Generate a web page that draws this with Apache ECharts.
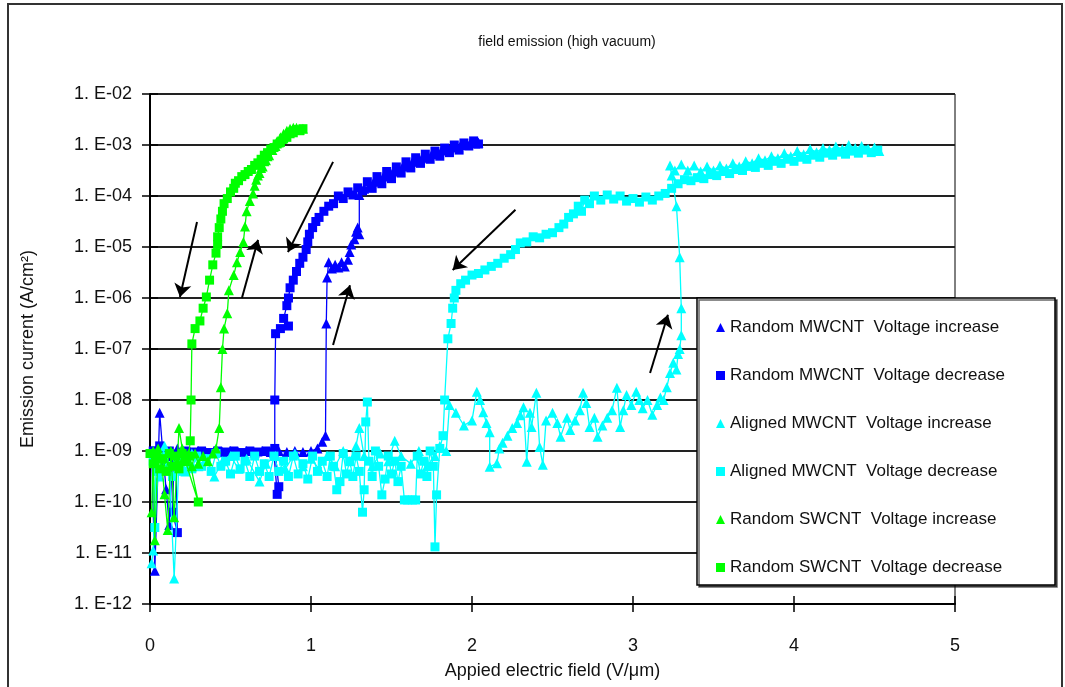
<!DOCTYPE html>
<html>
<head>
<meta charset="utf-8">
<title>field emission (high vacuum)</title>
<script src="https://cdn.jsdelivr.net/npm/echarts@6/dist/echarts.min.js"></script>
<style>
  html, body { margin: 0; padding: 0; background: #fff; }
  #chart { width: 1065px; height: 687px; }
</style>
</head>
<body>
<div id="chart"></div>
<script>
// values are [field (V/um), log10 of emission current (A/cm2)]
const rmwIncrease = [
  [0.01,-9.0],[0.03,-11.35],[0.06,-8.25],[0.08,-9.05],[0.1,-9.75],[0.12,-10.45],[0.14,-9.1],[0.17,-8.95],
  [0.2,-9.0],[0.25,-9.02],[0.3,-9.0],[0.35,-9.03],[0.4,-9.0],[0.45,-9.02],[0.5,-9.0],[0.55,-9.02],
  [0.6,-9.0],[0.65,-9.03],[0.7,-9.0],[0.75,-9.02],[0.8,-9.0],[0.85,-9.02],[0.9,-9.0],[0.95,-9.02],
  [1.0,-9.0],[1.04,-8.95],[1.07,-8.82],[1.09,-8.7],[1.095,-6.5],[1.1,-5.6],[1.11,-5.3],[1.13,-5.42],
  [1.15,-5.35],[1.17,-5.4],[1.19,-5.3],[1.21,-5.38],[1.23,-5.25],[1.24,-5.1],[1.25,-4.95],[1.27,-4.85],
  [1.28,-4.7],[1.29,-4.62],[1.3,-4.75],[1.3,-3.98],[1.33,-3.86],[1.36,-3.82],[1.39,-3.72],[1.42,-3.7],
  [1.45,-3.62],[1.48,-3.6],[1.51,-3.52],[1.54,-3.5],[1.57,-3.42],[1.6,-3.4],[1.63,-3.33],[1.66,-3.32],
  [1.69,-3.25],[1.72,-3.24],[1.75,-3.18],[1.78,-3.17],[1.81,-3.11],[1.84,-3.1],[1.87,-3.04],[1.9,-3.05],
  [1.93,-3.0],[1.96,-3.0],[1.99,-2.96],[2.02,-2.97],[2.04,-2.95]
];
const rmwDecrease = [
  [2.04,-2.98],[2.01,-2.92],[1.98,-3.02],[1.95,-2.96],[1.92,-3.1],[1.89,-3.0],[1.86,-3.15],[1.83,-3.06],
  [1.8,-3.22],[1.77,-3.12],[1.74,-3.28],[1.71,-3.18],[1.68,-3.36],[1.65,-3.25],[1.62,-3.45],[1.59,-3.33],
  [1.56,-3.55],[1.53,-3.43],[1.5,-3.66],[1.47,-3.52],[1.44,-3.76],[1.41,-3.62],[1.38,-3.85],[1.35,-3.72],
  [1.32,-3.9],[1.29,-3.84],[1.26,-3.98],[1.23,-3.92],[1.2,-4.05],[1.17,-4.0],[1.14,-4.15],[1.11,-4.2],
  [1.08,-4.3],[1.05,-4.42],[1.03,-4.5],[1.01,-4.62],[0.99,-4.75],[0.98,-4.9],[0.97,-5.05],[0.95,-5.2],
  [0.93,-5.32],[0.91,-5.48],[0.89,-5.65],[0.87,-5.8],[0.86,-6.0],[0.85,-6.15],[0.83,-6.4],[0.86,-6.55],
  [0.81,-6.6],[0.78,-6.7],[0.775,-8.0],[0.775,-8.95],[0.8,-9.7],[0.79,-9.85],[0.77,-9.05],[0.72,-9.0],
  [0.67,-9.02],[0.62,-9.0],[0.57,-9.03],[0.52,-9.0],[0.47,-9.02],[0.42,-9.0],[0.37,-9.03],[0.32,-9.0],
  [0.27,-9.02],[0.22,-9.0],[0.18,-9.05],[0.15,-9.1],[0.14,-10.2],[0.17,-10.6],[0.16,-9.2],[0.12,-9.0],
  [0.09,-9.3],[0.06,-8.9],[0.04,-9.0],[0.02,-9.0]
];
const amwIncrease = [
  [0.01,-11.2],[0.02,-10.95],[0.04,-9.1],[0.06,-9.5],[0.09,-8.9],[0.12,-9.3],[0.15,-11.5],[0.18,-9.2],
  [0.22,-9.4],[0.26,-9.05],[0.3,-9.3],[0.35,-9.15],[0.4,-9.5],[0.45,-9.2],[0.5,-9.1],[0.55,-9.35],
  [0.6,-9.15],[0.68,-9.6],[0.72,-9.25],[0.78,-9.1],[0.84,-9.35],[0.9,-9.05],[0.95,-9.3],[1.0,-9.15],
  [1.05,-9.35],[1.1,-9.1],[1.15,-9.3],[1.2,-9.0],[1.24,-9.2],[1.28,-8.9],[1.3,-8.55],[1.33,-9.1],
  [1.38,-9.3],[1.43,-9.05],[1.48,-9.2],[1.52,-8.8],[1.56,-9.1],[1.62,-9.25],[1.67,-9.0],[1.72,-9.3],
  [1.77,-9.1],[1.8,-8.9],[1.84,-9.0],[1.86,-8.1],[1.9,-8.25],[1.95,-8.5],[2.0,-8.4],[2.03,-7.84],
  [2.05,-8.0],[2.07,-8.24],[2.09,-8.45],[2.11,-8.63],[2.11,-9.31],[2.155,-9.24],[2.17,-8.95],[2.19,-8.84],
  [2.22,-8.7],[2.25,-8.55],[2.28,-8.45],[2.3,-8.3],[2.32,-8.14],[2.34,-9.21],[2.36,-8.25],[2.37,-8.53],
  [2.4,-7.86],[2.42,-8.92],[2.44,-9.27],[2.46,-8.4],[2.5,-8.25],[2.53,-8.45],[2.55,-8.72],[2.59,-8.35],
  [2.61,-8.59],[2.64,-8.4],[2.67,-8.2],[2.69,-7.86],[2.71,-8.06],[2.73,-8.53],[2.76,-8.35],[2.78,-8.72],
  [2.81,-8.5],[2.84,-8.35],[2.87,-8.2],[2.9,-7.76],[2.92,-8.53],[2.94,-8.2],[2.96,-7.9],[2.99,-8.1],
  [3.02,-7.84],[3.04,-8.0],[3.06,-8.16],[3.09,-8.0],[3.12,-8.29],[3.15,-8.1],[3.17,-7.95],[3.19,-8.0],
  [3.21,-7.75],[3.23,-7.47],[3.25,-7.27],[3.27,-7.4],[3.28,-7.1],[3.29,-7.0],[3.3,-6.73],[3.3,-6.2],
  [3.29,-5.2],[3.27,-4.2],[3.24,-3.6],[3.23,-3.4],[3.26,-3.5],[3.3,-3.38],[3.34,-3.5],[3.38,-3.4],
  [3.42,-3.52],[3.46,-3.42],[3.5,-3.5],[3.54,-3.4],[3.58,-3.46],[3.62,-3.36],[3.66,-3.42],[3.7,-3.32],
  [3.74,-3.36],[3.78,-3.26],[3.82,-3.3],[3.86,-3.22],[3.9,-3.26],[3.94,-3.16],[3.98,-3.22],[4.02,-3.12],
  [4.06,-3.18],[4.1,-3.08],[4.14,-3.14],[4.18,-3.06],[4.22,-3.1],[4.26,-3.03],[4.3,-3.08],[4.34,-3.0],
  [4.38,-3.06],[4.42,-3.02],[4.46,-3.08],[4.5,-3.05],[4.53,-3.12]
];
const amwDecrease = [
  [4.52,-3.1],[4.48,-3.15],[4.44,-3.1],[4.4,-3.16],[4.36,-3.12],[4.32,-3.18],[4.28,-3.14],[4.24,-3.2],
  [4.2,-3.16],[4.16,-3.24],[4.12,-3.2],[4.08,-3.28],[4.04,-3.24],[4.0,-3.32],[3.96,-3.28],[3.92,-3.36],
  [3.88,-3.32],[3.84,-3.4],[3.8,-3.36],[3.76,-3.44],[3.72,-3.42],[3.68,-3.5],[3.64,-3.48],[3.6,-3.56],
  [3.56,-3.52],[3.52,-3.6],[3.48,-3.58],[3.44,-3.66],[3.4,-3.64],[3.36,-3.7],[3.32,-3.68],[3.28,-3.76],
  [3.24,-3.85],[3.2,-3.95],[3.16,-4.0],[3.12,-4.08],[3.08,-4.02],[3.04,-4.12],[3.0,-4.05],[2.96,-4.1],
  [2.92,-4.0],[2.88,-4.06],[2.84,-3.98],[2.8,-4.08],[2.76,-4.0],[2.73,-4.15],[2.7,-4.08],[2.68,-4.3],
  [2.66,-4.2],[2.63,-4.35],[2.6,-4.42],[2.57,-4.55],[2.54,-4.62],[2.5,-4.72],[2.46,-4.75],[2.42,-4.82],
  [2.38,-4.8],[2.34,-4.9],[2.3,-4.92],[2.27,-5.05],[2.24,-5.15],[2.2,-5.22],[2.16,-5.32],[2.12,-5.38],
  [2.08,-5.45],[2.04,-5.52],[2.0,-5.55],[1.96,-5.65],[1.93,-5.72],[1.9,-5.85],[1.89,-6.0],[1.88,-6.2],
  [1.87,-6.5],[1.85,-6.8],[1.83,-8.0],[1.82,-8.7],[1.8,-8.95],[1.78,-9.86],[1.77,-10.88],[1.76,-9.3],
  [1.74,-9.0],[1.72,-9.5],[1.7,-9.2],[1.68,-9.45],[1.66,-9.1],[1.65,-9.96],[1.63,-9.96],[1.6,-9.96],
  [1.58,-9.96],[1.56,-9.3],[1.54,-9.6],[1.52,-9.2],[1.5,-9.45],[1.48,-9.1],[1.46,-9.55],[1.44,-9.86],
  [1.42,-9.3],[1.4,-9.0],[1.38,-9.5],[1.36,-9.2],[1.35,-8.04],[1.34,-8.43],[1.33,-9.76],[1.32,-10.2],
  [1.3,-9.4],[1.28,-9.1],[1.26,-9.5],[1.24,-9.2],[1.22,-9.45],[1.2,-9.05],[1.18,-9.6],[1.16,-9.76],
  [1.14,-9.3],[1.12,-9.1],[1.1,-9.5],[1.07,-9.2],[1.04,-9.4],[1.01,-9.1],[0.98,-9.55],[0.95,-9.25],
  [0.92,-9.45],[0.89,-9.1],[0.86,-9.5],[0.83,-9.2],[0.8,-9.4],[0.77,-9.1],[0.74,-9.5],[0.71,-9.25],
  [0.68,-9.4],[0.65,-9.1],[0.62,-9.5],[0.59,-9.2],[0.56,-9.35],[0.53,-9.1],[0.5,-9.45],[0.47,-9.2],
  [0.44,-9.3],[0.41,-9.05],[0.38,-9.4],[0.35,-9.15],[0.32,-9.3],[0.29,-9.1],[0.26,-9.35],[0.23,-9.15],
  [0.2,-9.4],[0.17,-9.2],[0.14,-9.5],[0.11,-9.3],[0.08,-9.1],[0.05,-9.4],[0.03,-10.5],[0.02,-9.2]
];
const rswIncrease = [
  [0.01,-10.2],[0.02,-9.0],[0.03,-10.75],[0.05,-8.95],[0.07,-9.15],[0.09,-9.85],[0.11,-10.55],[0.13,-9.0],
  [0.15,-10.3],[0.17,-9.2],[0.18,-8.55],[0.2,-8.95],[0.22,-9.2],[0.24,-9.05],[0.26,-9.3],[0.28,-9.05],
  [0.3,-9.25],[0.33,-9.1],[0.36,-9.2],[0.39,-9.05],[0.41,-8.95],[0.43,-8.55],[0.44,-7.75],[0.45,-7.0],
  [0.46,-6.6],[0.48,-6.3],[0.49,-5.85],[0.52,-5.55],[0.54,-5.3],[0.56,-5.1],[0.58,-4.9],[0.59,-4.6],
  [0.6,-4.3],[0.62,-4.1],[0.64,-3.95],[0.65,-3.8],[0.66,-3.68],[0.67,-3.6],[0.68,-3.55],[0.69,-3.45],
  [0.7,-3.42],[0.71,-3.32],[0.72,-3.3],[0.73,-3.22],[0.74,-3.2],[0.75,-3.1],[0.76,-3.1],[0.77,-3.0],
  [0.78,-3.02],[0.79,-2.92],[0.8,-2.95],[0.81,-2.85],[0.82,-2.88],[0.83,-2.78],[0.84,-2.82],[0.85,-2.72],
  [0.86,-2.76],[0.87,-2.68],[0.88,-2.72],[0.89,-2.66],[0.9,-2.7],[0.91,-2.66],[0.93,-2.7],[0.95,-2.68]
];
const rswDecrease = [
  [0.95,-2.68],[0.93,-2.72],[0.91,-2.7],[0.89,-2.76],[0.87,-2.78],[0.85,-2.85],[0.83,-2.88],[0.81,-2.95],
  [0.79,-2.98],[0.77,-3.05],[0.75,-3.08],[0.73,-3.15],[0.71,-3.2],[0.69,-3.28],[0.67,-3.35],[0.65,-3.4],
  [0.63,-3.48],[0.61,-3.52],[0.59,-3.58],[0.57,-3.62],[0.55,-3.7],[0.53,-3.75],[0.52,-3.85],[0.5,-3.92],
  [0.48,-4.05],[0.46,-4.15],[0.45,-4.3],[0.44,-4.45],[0.43,-4.62],[0.42,-4.8],[0.42,-4.95],[0.41,-5.12],
  [0.39,-5.35],[0.37,-5.65],[0.35,-5.98],[0.33,-6.2],[0.31,-6.45],[0.28,-6.6],[0.26,-6.9],[0.255,-8.0],
  [0.25,-8.8],[0.24,-9.1],[0.3,-10.0],[0.22,-9.2],[0.2,-9.05],[0.18,-9.35],[0.16,-9.1],[0.14,-9.3],
  [0.12,-9.05],[0.1,-9.4],[0.08,-9.15],[0.06,-9.35],[0.04,-9.1],[0.02,-9.25],[0.0,-9.05]
];
// hysteresis arrows: [x from, log10 from, x to, log10 to]
const arrows = [
  [0.292,-4.51,0.186,-5.98],
  [0.571,-6.0,0.671,-4.86],
  [1.137,-3.33,0.857,-5.1],
  [1.137,-6.92,1.242,-5.75],
  [2.27,-4.27,1.88,-5.45],
  [3.106,-7.47,3.217,-6.33]
];
const seriesNames = [
  'Random MWCNT  Voltage increase',
  'Random MWCNT  Voltage decrease',
  'Aligned MWCNT  Voltage increase',
  'Aligned MWCNT  Voltage decrease',
  'Random SWCNT  Voltage increase',
  'Random SWCNT  Voltage decrease'
];
const seriesData = [rmwIncrease, rmwDecrease, amwIncrease, amwDecrease, rswIncrease, rswDecrease];
const seriesColors = ['#0000ff', '#0000ff', '#00ffff', '#00ffff', '#00ff00', '#00ff00'];
const seriesSymbols = ['triangle', 'rect', 'triangle', 'rect', 'triangle', 'rect'];

const font = 'Liberation Sans, Arial, sans-serif';
const toValue = pts => pts.map(p => [p[0], Math.pow(10, p[1])]);

const series = seriesNames.map((name, i) => ({
  name: name,
  type: 'line',
  data: toValue(seriesData[i]),
  symbol: seriesSymbols[i],
  symbolSize: seriesSymbols[i] === 'rect' ? 9 : 10,
  showSymbol: true,
  color: seriesColors[i],
  lineStyle: { width: 1.3, color: seriesColors[i] },
  itemStyle: { color: seriesColors[i] },
  z: 2 + i * 0.1
}));

series[0].markLine = {
  silent: true,
  animation: false,
  symbol: ['none', 'arrow'],
  symbolSize: 13,
  label: { show: false },
  lineStyle: { color: '#000', width: 2, type: 'solid' },
  data: arrows.map(a => [
    { coord: [a[0], Math.pow(10, a[1])] },
    { coord: [a[2], Math.pow(10, a[3])] }
  ])
};

const chart = echarts.init(document.getElementById('chart'));
chart.setOption({
  animation: false,
  backgroundColor: '#fff',
  title: {
    text: 'field emission (high vacuum)',
    left: 562,
    top: 30,
    textAlign: 'center',
    textStyle: { fontFamily: font, fontSize: 14, fontWeight: 'normal', color: '#111' }
  },
  grid: {
    left: 150, right: 110, top: 94, bottom: 83,
    show: true, borderColor: '#000', borderWidth: 1
  },
  xAxis: [{
    type: 'value', min: 0, max: 5, interval: 1,
    name: 'Appied electric field (V/\u03bcm)',
    nameLocation: 'middle', nameGap: 58,
    nameTextStyle: { fontFamily: font, fontSize: 18, color: '#111' },
    axisLine: { lineStyle: { color: '#000', width: 2 } },
    axisTick: { length: 8, lineStyle: { color: '#000', width: 1.5 } },
    axisLabel: { margin: 33, fontFamily: font, fontSize: 18, color: '#111' },
    splitLine: { show: false }
  }, {
    type: 'value', min: 0, max: 5, interval: 1, position: 'bottom',
    axisLine: { show: false },
    axisTick: { inside: true, length: 8, lineStyle: { color: '#000', width: 1.5 } },
    axisLabel: { show: false },
    splitLine: { show: false }
  }],
  yAxis: [{
    type: 'log', logBase: 10, min: 1e-12, max: 1e-2, splitNumber: 10,
    name: 'Emission current (A/cm\u00b2)',
    nameLocation: 'middle', nameGap: 113, nameRotate: 90,
    nameTextStyle: { fontFamily: font, fontSize: 18, color: '#111' },
    axisLine: { show: true, lineStyle: { color: '#000', width: 2 } },
    axisTick: { length: 8, lineStyle: { color: '#000', width: 1.5 } },
    axisLabel: {
      margin: 18, fontFamily: font, fontSize: 18, color: '#111',
      formatter: v => {
        const e = Math.round(Math.log10(v));
        return '1. E-' + String(Math.abs(e)).padStart(2, '0');
      }
    },
    splitLine: { show: true, lineStyle: { color: '#222', width: 2 } }
  }, {
    type: 'log', logBase: 10, min: 1e-12, max: 1e-2, splitNumber: 10, position: 'left',
    axisLine: { show: false },
    axisTick: { inside: true, length: 8, lineStyle: { color: '#000', width: 1.5 } },
    axisLabel: { show: false },
    splitLine: { show: false }
  }],
  legend: {
    orient: 'vertical',
    left: 716, top: 319,
    padding: 0,
    itemGap: 31,
    itemWidth: 9, itemHeight: 9,
    z: 20,
    textStyle: { fontFamily: font, fontSize: 17, lineHeight: 16, color: '#111' },
    data: seriesNames.map((n, i) => ({ name: n, icon: seriesSymbols[i] }))
  },
  graphic: [
    {
      type: 'rect', z: 1, silent: true,
      shape: { x: 8, y: 4, width: 1054, height: 700 },
      style: { fill: 'none', stroke: '#333', lineWidth: 2 }
    },
    {
      type: 'rect', z: 10, silent: true,
      shape: { x: 697, y: 298, width: 358, height: 287 },
      style: {
        fill: '#fff', stroke: '#000', lineWidth: 1.5,
        shadowColor: 'rgba(0,0,0,0.6)', shadowOffsetX: 2, shadowOffsetY: 2, shadowBlur: 0
      }
    }
  ],
  series: series
});
</script>
</body>
</html>
